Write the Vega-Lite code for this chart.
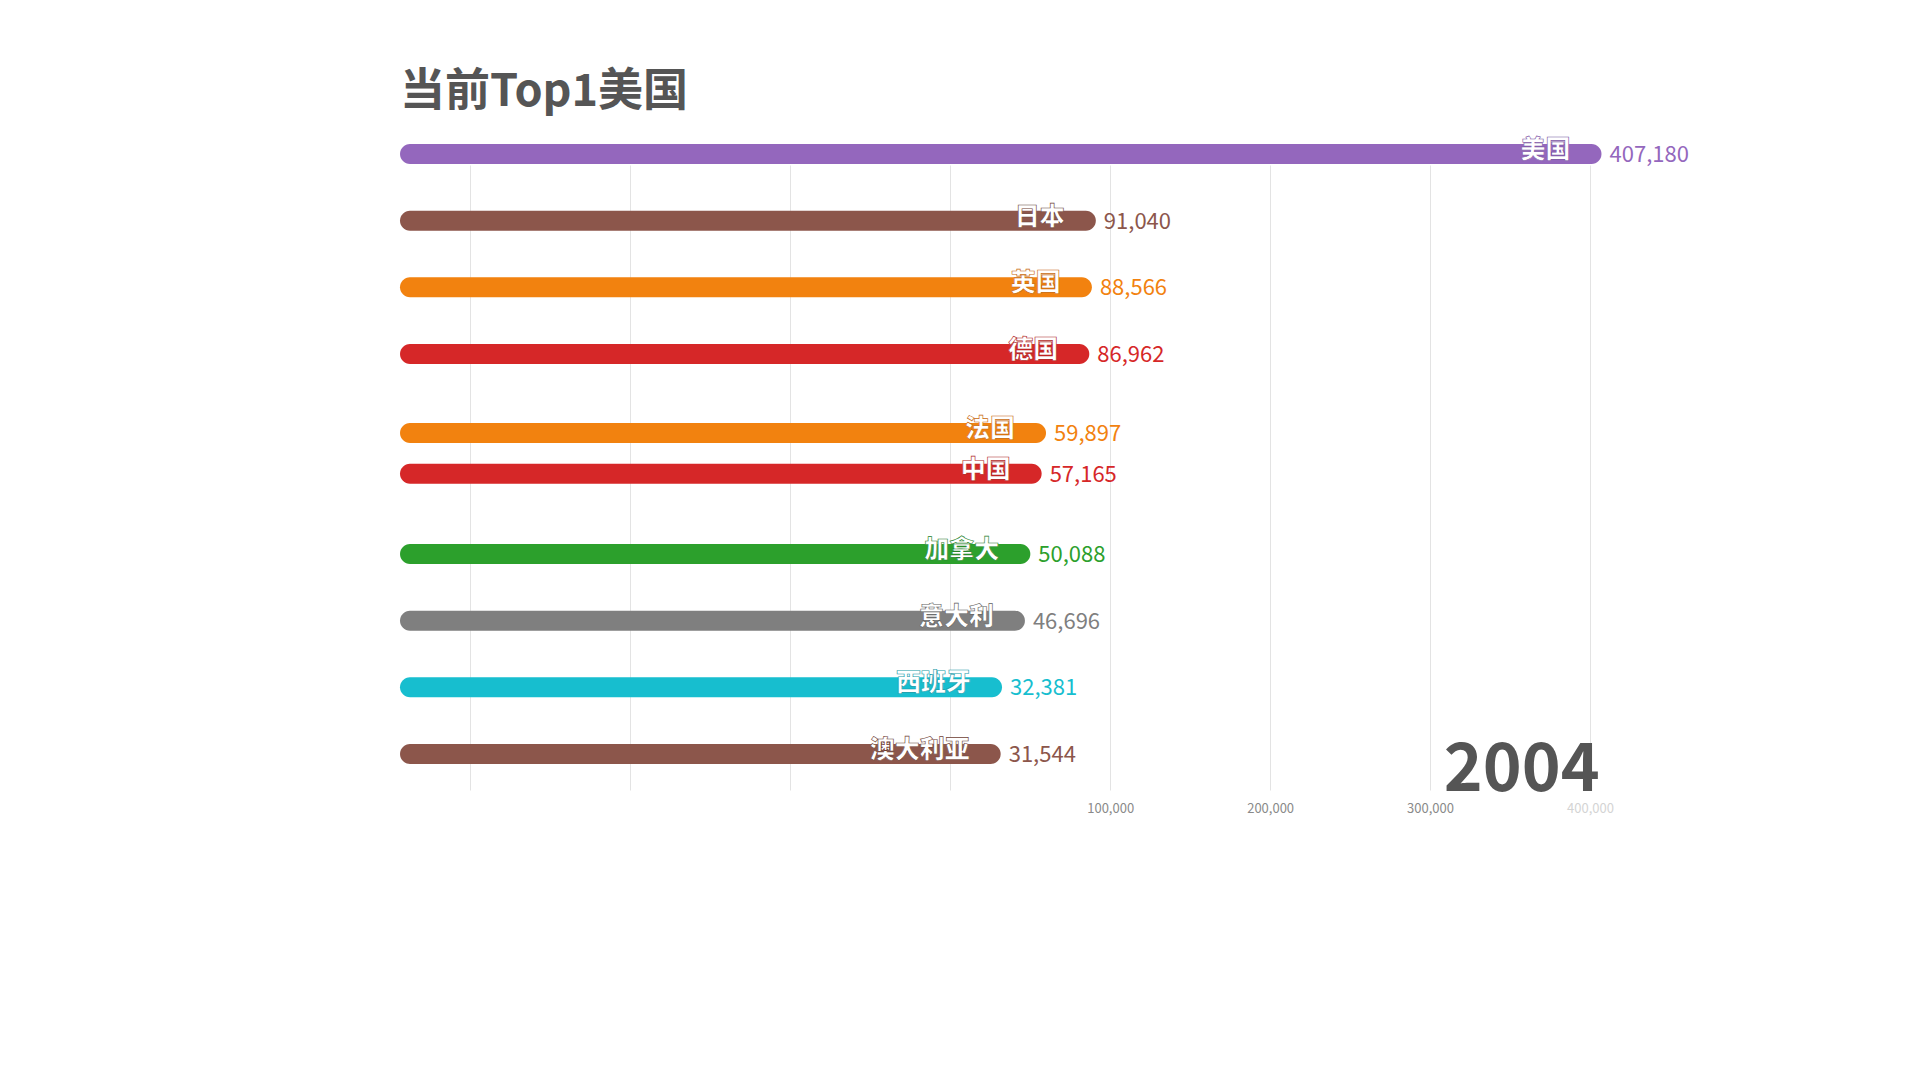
{
  "$schema": "https://vega.github.io/schema/vega-lite/v6.json",
  "width": 1238,
  "height": 625,
  "autosize": "none",
  "padding": {"left": 400, "top": 165, "right": 282, "bottom": 290},
  "background": "white",
  "title": {"text": "当前Top1美国", "anchor": "start", "frame": "group", "fontSize": 45, "fontWeight": "bold", "color": "#555555", "font": "Noto Sans CJK SC", "offset": 23},
  "config": {"view": {"stroke": null}, "font": "Noto Sans CJK SC"},
  "datasets": {
    "rows": [
      {"country": "美国", "value": 407180, "rank": 1},
      {"country": "日本", "value": 91040, "rank": 2},
      {"country": "英国", "value": 88566, "rank": 3},
      {"country": "德国", "value": 86962, "rank": 4},
      {"country": "法国", "value": 59897, "rank": 5.185},
      {"country": "中国", "value": 57165, "rank": 5.795},
      {"country": "加拿大", "value": 50088, "rank": 7},
      {"country": "意大利", "value": 46696, "rank": 8},
      {"country": "西班牙", "value": 32381, "rank": 9},
      {"country": "澳大利亚", "value": 31544, "rank": 10}
    ],
    "years": [{"year": "2004"}]
  },
  "layer": [
    {
      "data": {"name": "rows"},
      "mark": {"type": "bar", "size": 20, "cornerRadius": 10},
      "encoding": {
        "y": {"field": "rank", "type": "quantitative", "scale": {"domain": [1.165, 10.54], "reverse": true, "nice": false, "zero": false, "padding": 0}, "axis": null},
        "x": {"field": "value", "type": "quantitative",
          "scale": {"domain": [-344000, 430000], "nice": false, "zero": false, "padding": 0},
          "axis": {"values": [-300000, -200000, -100000, 0, 100000, 200000, 300000, 400000],
            "labelExpr": "datum.value > 0 ? format(datum.value, ',') : ''",
            "grid": true, "gridColor": "#e3e3e3", "domain": false, "ticks": false, "tickSize": 0,
            "labelPadding": 12, "labelFontSize": 13, "labelFont": "Noto Sans CJK SC",
            "labelColor": {"condition": {"test": "datum.value >= 400000", "value": "#d4d4d4"}, "value": "#8a8a8a"},
            "title": null}},
        "x2": {"datum": -344000},
        "color": {"field": "country", "type": "nominal", "legend": null,
          "scale": {"domain": ["美国", "日本", "英国", "德国", "法国", "中国", "加拿大", "意大利", "西班牙", "澳大利亚"],
            "range": ["#9467bd", "#8c564b", "#f2820f", "#d62728", "#f2820f", "#d62728", "#2ca02c", "#7f7f7f", "#17becf", "#8c564b"]}}
      }
    },
    {
      "data": {"name": "rows"},
      "mark": {"type": "text", "align": "right", "baseline": "middle", "dx": -31, "dy": -4, "fontSize": 25, "fontWeight": 900, "fill": "white", "strokeWidth": 0.6},
      "encoding": {
        "y": {"field": "rank", "type": "quantitative"},
        "x": {"field": "value", "type": "quantitative"},
        "text": {"field": "country"},
        "stroke": {"field": "country", "type": "nominal", "legend": null,
          "scale": {"domain": ["美国", "日本", "英国", "德国", "法国", "中国", "加拿大", "意大利", "西班牙", "澳大利亚"],
            "range": ["#7a52a3", "#6e4035", "#c8680a", "#b01e1e", "#c8680a", "#b01e1e", "#23822a", "#606060", "#129aa8", "#6e4035"]}}
      }
    },
    {
      "data": {"name": "rows"},
      "mark": {"type": "text", "align": "left", "baseline": "middle", "dx": 8, "dy": 1, "fontSize": 22},
      "encoding": {
        "y": {"field": "rank", "type": "quantitative"},
        "x": {"field": "value", "type": "quantitative"},
        "text": {"field": "value", "type": "quantitative", "format": ","},
        "color": {"field": "country", "type": "nominal", "legend": null}
      }
    },
    {
      "data": {"name": "years"},
      "mark": {"type": "text", "align": "right", "baseline": "alphabetic", "fontSize": 66, "fontWeight": "bold", "fill": "#555555"},
      "encoding": {
        "x": {"datum": 406000, "type": "quantitative"},
        "y": {"datum": 10.56, "type": "quantitative"},
        "text": {"field": "year", "type": "nominal"}
      }
    }
  ]
}
